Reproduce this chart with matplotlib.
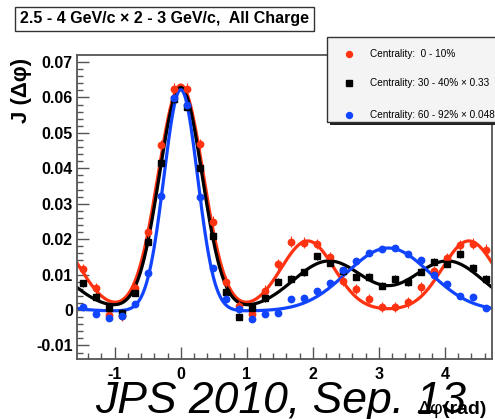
import numpy as np
import matplotlib
matplotlib.use("Agg")
import matplotlib.pyplot as plt
from matplotlib.ticker import MultipleLocator, FuncFormatter
from matplotlib.patches import Rectangle
from matplotlib.lines import Line2D

plt.rcParams['font.family'] = ['Liberation Sans', 'DejaVu Sans']
plt.rcParams['axes.unicode_minus'] = False

# bin centres: 32 bins over (-pi/2, 3pi/2)
dphi = -np.pi / 2 + np.pi / 32 + np.arange(32) * np.pi / 16

j_central = [0.0115, 0.0061, -0.0015, -0.0017, 0.0061, 0.0221, 0.0466, 0.0625,
             0.0625, 0.0468, 0.0249, 0.0080, 0.0010, -0.0012, 0.0055, 0.0129,
             0.0193, 0.0190, 0.0186, 0.0150, 0.0082, 0.0059, 0.0031, 0.0009,
             0.0008, 0.0022, 0.0064, 0.0110, 0.0147, 0.0183, 0.0187, 0.0170]
j_mid = [0.0075, 0.0038, 0.0005, -0.0008, 0.0049, 0.0193, 0.0414, 0.0595,
         0.0574, 0.0400, 0.0210, 0.0052, -0.0019, 0.0005, 0.0033, 0.0080,
         0.0088, 0.0106, 0.0152, 0.0133, 0.0110, 0.0094, 0.0094, 0.0069,
         0.0088, 0.0079, 0.0108, 0.0136, 0.0131, 0.0158, 0.0119, 0.0088]
j_periph = [0.0008, -0.0012, -0.0022, -0.0016, 0.0016, 0.0104, 0.0323, 0.0598,
            0.0579, 0.0320, 0.0118, 0.0031, 0.0002, -0.0025, -0.0012, -0.0009,
            0.0030, 0.0035, 0.0055, 0.0075, 0.0113, 0.0139, 0.0160, 0.0172,
            0.0175, 0.0157, 0.0140, 0.0098, 0.0073, 0.0040, 0.0038, 0.0005]
err_central = [0.0015] * 32
err_mid = [0.0010] * 32
err_periph = [0.0008] * 32

# fit parameters: near amp, near sigma, away amp, away sigma, away offsets from pi, baseline
fit_central = [0.0635, 0.34, 0.0195, 0.40, [-1.22, 1.22], 0.0]
fit_mid = [0.0628, 0.323, 0.0138, 0.54, [-0.9, 0.9], 0.0]
fit_periph = [0.0625, 0.255, 0.0178, 0.63, [0.0], -0.0003]

labels = ['Centrality:  0 - 10%', 'Centrality: 30 - 40% \u00d7 0.33',
          'Centrality: 60 - 92% \u00d7 0.048']
colors = ['#ff3311', 'black', '#1144ff']
markers = ['o', 's', 'o']


def fitcurve(x, p):
    na, ns, aa, asg, offs, base = p
    y = np.full_like(x, base)
    for k in (-1, 0, 1):
        y += na * np.exp(-(x - 2 * np.pi * k) ** 2 / (2 * ns ** 2))
        for o in offs:
            y += aa * np.exp(-(x - np.pi - o - 2 * np.pi * k) ** 2 / (2 * asg ** 2))
    return y


fig = plt.figure(figsize=(4.95, 4.19), dpi=100)
ax = fig.add_axes([77 / 495, 1 - 359 / 419, (492 - 77) / 495, (359 - 55) / 419])

xs = np.linspace(-np.pi / 2, 3 * np.pi / 2, 500)
for p, c in zip([fit_central, fit_mid, fit_periph], colors):
    ax.plot(xs, fitcurve(xs, p), color=c, lw=2.3, zorder=2)

for y, e, c, m, ms in zip([j_central, j_mid, j_periph], [err_central, err_mid, err_periph],
                          colors, markers, [4.6, 4.8, 4.6]):
    ax.errorbar(dphi, y, yerr=e, fmt='none', ecolor=c, elinewidth=0.8, zorder=3)
    ax.plot(dphi, y, linestyle='none', marker=m, color=c, markersize=ms, zorder=4)

ax.set_xlim(-np.pi / 2, 3 * np.pi / 2)
ax.set_ylim(-0.01383, 0.07198)
ax.xaxis.set_major_locator(MultipleLocator(1))
ax.xaxis.set_minor_locator(MultipleLocator(0.2))
ax.yaxis.set_major_locator(MultipleLocator(0.01))
ax.yaxis.set_minor_locator(MultipleLocator(0.002))
fmt = FuncFormatter(lambda v, pos: '%g' % round(v, 4))
ax.xaxis.set_major_formatter(fmt)
ax.yaxis.set_major_formatter(fmt)
ax.tick_params(which='both', direction='in', top=False, right=False, color='#555555')
ax.tick_params(which='major', length=8.5, width=1.0)
ax.tick_params(which='minor', length=4.5, width=1.0)
ax.tick_params(axis='y', pad=3)
ax.tick_params(axis='x', pad=6)
for lab in ax.get_xticklabels() + ax.get_yticklabels():
    lab.set_fontweight('bold')
    lab.set_fontsize(11.5)
for s in ax.spines.values():
    s.set_color('#555555')
    s.set_linewidth(1.3)

# title box
fig.text(20 / 495, 1 - 19 / 419, '2.5 - 4 GeV/c \u00d7 2 - 3 GeV/c,  All Charge',
         fontsize=11.5, fontweight='bold', va='center', ha='left',
         bbox=dict(boxstyle='square,pad=0.3', facecolor='white', edgecolor='#333333', lw=1))

# legend box
W, H = 495, 419
fig.add_artist(Rectangle((330 / W, 1 - 125 / H), 200 / W, 85 / H, transform=fig.transFigure,
                         facecolor='#222222', edgecolor='none'))
fig.add_artist(Rectangle((327 / W, 1 - 122 / H), 200 / W, 85 / H, transform=fig.transFigure,
                         facecolor='#f4f4f4', edgecolor='#333333', lw=1))
for lab, c, m, yy in zip(labels, colors, markers, [54, 83, 115]):
    fig.add_artist(Line2D([349 / W], [1 - yy / H], marker=m, color=c, markersize=4.3,
                          linestyle='none', transform=fig.transFigure))
    fig.text(370 / W, 1 - yy / H, lab, fontsize=7.2, va='center', ha='left')

fig.text(21 / W, 1 - 90 / H, 'J (\u0394\u03c6)', rotation=90, fontsize=16,
         fontweight='bold', ha='center', va='center')

fig.text(95 / W, 1 - 413 / H, 'JPS 2010, Sep. 13', fontsize=32, style='italic',
         ha='left', va='baseline')
fig.text(443 / W, 1 - 414 / H, '\u0394\u03c6', fontsize=14, ha='right', va='baseline')
fig.text(443 / W, 1 - 414 / H, '(rad)', fontsize=14, fontweight='bold', ha='left',
         va='baseline')

fig.savefig('out.png', dpi=100)
